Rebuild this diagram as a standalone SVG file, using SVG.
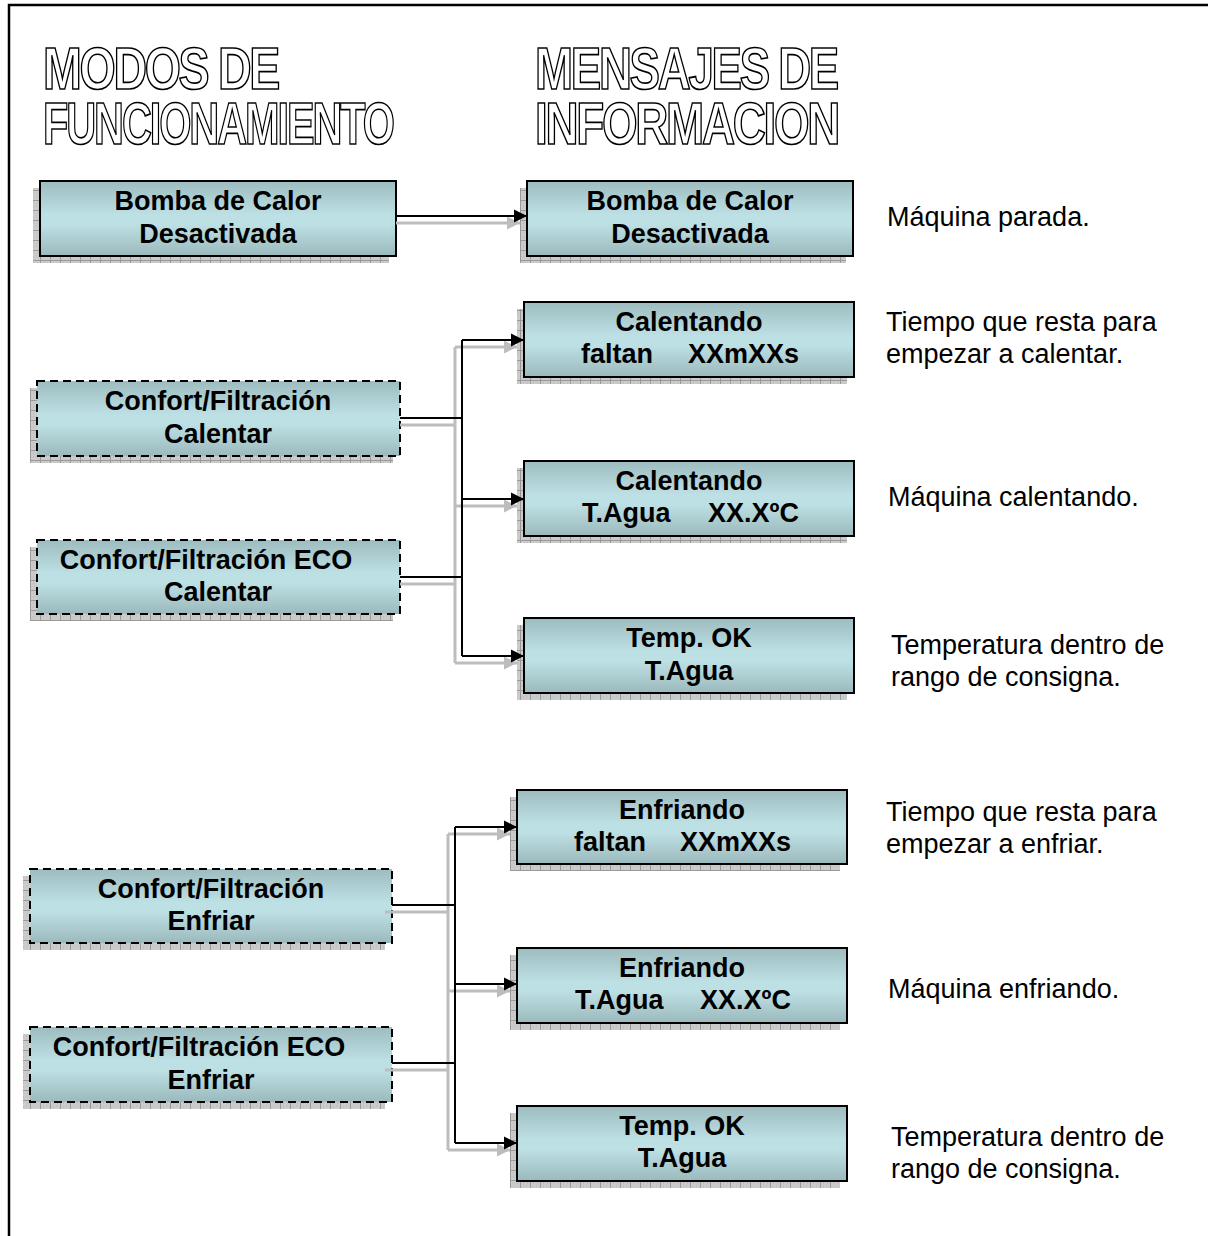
<svg xmlns="http://www.w3.org/2000/svg" width="1208" height="1236" viewBox="0 0 1208 1236">
  <defs>
    <linearGradient id="boxFill" x1="0" y1="0" x2="0" y2="1">
      <stop offset="0" stop-color="#9dbcbf"/>
      <stop offset="0.45" stop-color="#bde0e4"/>
      <stop offset="0.58" stop-color="#bde0e4"/>
      <stop offset="1" stop-color="#9bb9bc"/>
    </linearGradient>
    <pattern id="shadowGrid" width="10" height="10" patternUnits="userSpaceOnUse">
      <rect width="10" height="10" fill="#cbcbcb"/>
      <path d="M0,0.5 H10 M0.5,0 V10" stroke="#999" stroke-width="1"/>
      <path d="M3,3 h1 M6,6 h1 M3,7 h1 M7,3 h1" stroke="#b4b4b4" stroke-width="1"/>
    </pattern>
    <marker id="arrowBlack" markerUnits="userSpaceOnUse" markerWidth="14" markerHeight="14" refX="13" refY="7" orient="auto">
      <path d="M0,0.5 L13,7 L0,13.5 Z" fill="#000"/>
    </marker>
    <marker id="arrowGrey" markerUnits="userSpaceOnUse" markerWidth="14" markerHeight="14" refX="13" refY="7" orient="auto">
      <path d="M0,0.5 L13,7 L0,13.5 Z" fill="#bdbdbd"/>
    </marker>
  </defs>
  <style>
    .title { font-family: "Liberation Sans", Arial, sans-serif; font-weight: bold; font-size: 60px; letter-spacing: -3px; fill: #fff; stroke: #000; stroke-width: 1.7; }
    .shadow { fill: url(#shadowGrid); }
    .box { fill: url(#boxFill); stroke: #000; stroke-width: 2; }
    .dashed { stroke-dasharray: 8 5; }
    .lbl { font-family: "Liberation Sans", Arial, sans-serif; font-weight: bold; font-size: 27px; fill: #000; text-anchor: middle; }
    .lbl-l { font-family: "Liberation Sans", Arial, sans-serif; font-weight: bold; font-size: 27px; fill: #000; }
    .desc { font-family: "Liberation Sans", Arial, sans-serif; font-size: 27px; fill: #000; }
    .wire { fill: none; stroke: #000; stroke-width: 2; }
    .wire-shadow { fill: none; stroke: #bdbdbd; stroke-width: 3; }
  </style>

  <rect width="1208" height="1236" fill="#fff"/>
  <!-- page frame -->
  <rect x="9" y="5" width="1230" height="1260" fill="none" stroke="#000" stroke-width="2.5"/>

  <!-- column headings -->
  <g id="headings">
    <text class="title" x="43" y="89" textLength="235" lengthAdjust="spacingAndGlyphs">MODOS DE</text>
    <text class="title" x="43" y="144" textLength="350" lengthAdjust="spacingAndGlyphs">FUNCIONAMIENTO</text>
    <text class="title" x="535" y="89" textLength="302" lengthAdjust="spacingAndGlyphs">MENSAJES DE</text>
    <text class="title" x="535" y="144" textLength="303" lengthAdjust="spacingAndGlyphs">INFORMACION</text>
  </g>

  <!-- operating modes -->
  <g id="mode-off">
    <rect class="shadow" x="33" y="188" width="356" height="75"/>
    <rect class="box" x="40" y="181" width="356" height="75"/>
    <text class="lbl" x="218" y="210">Bomba de Calor</text>
    <text class="lbl" x="218" y="243">Desactivada</text>
  </g>
  <g id="mode-heat">
    <rect class="shadow" x="30" y="388" width="363" height="75"/>
    <rect class="box dashed" x="37" y="381" width="363" height="75"/>
    <text class="lbl" x="218" y="410">Confort/Filtración</text>
    <text class="lbl" x="218" y="443">Calentar</text>
  </g>
  <g id="mode-heat-eco">
    <rect class="shadow" x="30" y="547" width="363" height="74"/>
    <rect class="box dashed" x="37" y="540" width="363" height="74"/>
    <text class="lbl" x="206" y="569">Confort/Filtración ECO</text>
    <text class="lbl" x="218" y="601">Calentar</text>
  </g>
  <g id="mode-cool">
    <rect class="shadow" x="23" y="876" width="362" height="74"/>
    <rect class="box dashed" x="30" y="869" width="362" height="74"/>
    <text class="lbl" x="211" y="898">Confort/Filtración</text>
    <text class="lbl" x="211" y="930">Enfriar</text>
  </g>
  <g id="mode-cool-eco">
    <rect class="shadow" x="23" y="1034" width="362" height="75"/>
    <rect class="box dashed" x="30" y="1027" width="362" height="75"/>
    <text class="lbl" x="199" y="1056">Confort/Filtración ECO</text>
    <text class="lbl" x="211" y="1089">Enfriar</text>
  </g>

  <!-- information messages -->
  <g id="msg-off">
    <rect class="shadow" x="520" y="188" width="326" height="75"/>
    <rect class="box" x="527" y="181" width="326" height="75"/>
    <text class="lbl" x="690" y="210">Bomba de Calor</text>
    <text class="lbl" x="690" y="243">Desactivada</text>
  </g>
  <g id="msg-heat-wait">
    <rect class="shadow" x="517" y="309" width="330" height="75"/>
    <rect class="box" x="524" y="302" width="330" height="75"/>
    <text class="lbl" x="689" y="331">Calentando</text>
    <text class="lbl-l" y="363"><tspan x="581">faltan</tspan><tspan x="688">XXmXXs</tspan></text>
  </g>
  <g id="msg-heat-run">
    <rect class="shadow" x="517" y="468" width="330" height="75"/>
    <rect class="box" x="524" y="461" width="330" height="75"/>
    <text class="lbl" x="689" y="490">Calentando</text>
    <text class="lbl-l" y="522"><tspan x="582">T.Agua</tspan><tspan x="708">XX.XºC</tspan></text>
  </g>
  <g id="msg-heat-ok">
    <rect class="shadow" x="517" y="625" width="330" height="75"/>
    <rect class="box" x="524" y="618" width="330" height="75"/>
    <text class="lbl" x="689" y="647">Temp. OK</text>
    <text class="lbl" x="689" y="680">T.Agua</text>
  </g>
  <g id="msg-cool-wait">
    <rect class="shadow" x="510" y="797" width="330" height="74"/>
    <rect class="box" x="517" y="790" width="330" height="74"/>
    <text class="lbl" x="682" y="819">Enfriando</text>
    <text class="lbl-l" y="851"><tspan x="574">faltan</tspan><tspan x="680">XXmXXs</tspan></text>
  </g>
  <g id="msg-cool-run">
    <rect class="shadow" x="510" y="955" width="330" height="75"/>
    <rect class="box" x="517" y="948" width="330" height="75"/>
    <text class="lbl" x="682" y="977">Enfriando</text>
    <text class="lbl-l" y="1009"><tspan x="575">T.Agua</tspan><tspan x="700">XX.XºC</tspan></text>
  </g>
  <g id="msg-cool-ok">
    <rect class="shadow" x="510" y="1113" width="330" height="75"/>
    <rect class="box" x="517" y="1106" width="330" height="75"/>
    <text class="lbl" x="682" y="1135">Temp. OK</text>
    <text class="lbl" x="682" y="1167">T.Agua</text>
  </g>

  <!-- connectors: grey offset shadows first, then the black lines -->
  <g id="connectors">
    <g class="shadows">
      <path class="wire-shadow" d="M396,223 H520" marker-end="url(#arrowGrey)"/>
      <path class="wire-shadow" d="M400,425 H455 M400,584 H455 M455,347 V663"/>
      <path class="wire-shadow" d="M455,347 H517" marker-end="url(#arrowGrey)"/>
      <path class="wire-shadow" d="M455,506 H517" marker-end="url(#arrowGrey)"/>
      <path class="wire-shadow" d="M455,663 H517" marker-end="url(#arrowGrey)"/>
      <path class="wire-shadow" d="M385,912 H448 M385,1070 H448 M448,834 V1150"/>
      <path class="wire-shadow" d="M448,834 H510" marker-end="url(#arrowGrey)"/>
      <path class="wire-shadow" d="M448,991 H510" marker-end="url(#arrowGrey)"/>
      <path class="wire-shadow" d="M448,1150 H510" marker-end="url(#arrowGrey)"/>
    </g>
    <g class="lines">
      <path class="wire" d="M396,216 H527" marker-end="url(#arrowBlack)"/>
      <path class="wire" d="M400,418 H462 M400,577 H462 M462,340 V656"/>
      <path class="wire" d="M462,340 H524" marker-end="url(#arrowBlack)"/>
      <path class="wire" d="M462,499 H524" marker-end="url(#arrowBlack)"/>
      <path class="wire" d="M462,656 H524" marker-end="url(#arrowBlack)"/>
      <path class="wire" d="M392,905 H455 M392,1063 H455 M455,827 V1143"/>
      <path class="wire" d="M455,827 H517" marker-end="url(#arrowBlack)"/>
      <path class="wire" d="M455,984 H517" marker-end="url(#arrowBlack)"/>
      <path class="wire" d="M455,1143 H517" marker-end="url(#arrowBlack)"/>
    </g>
  </g>

  <!-- message descriptions -->
  <g id="descriptions">
    <text class="desc" x="887" y="226">Máquina parada.</text>
    <text class="desc" x="886" y="331">Tiempo que resta para</text>
    <text class="desc" x="886" y="363">empezar a calentar.</text>
    <text class="desc" x="888" y="506">Máquina calentando.</text>
    <text class="desc" x="891" y="654">Temperatura dentro de</text>
    <text class="desc" x="891" y="686">rango de consigna.</text>
    <text class="desc" x="886" y="821">Tiempo que resta para</text>
    <text class="desc" x="886" y="853">empezar a enfriar.</text>
    <text class="desc" x="888" y="998">Máquina enfriando.</text>
    <text class="desc" x="891" y="1146">Temperatura dentro de</text>
    <text class="desc" x="891" y="1178">rango de consigna.</text>
  </g>
</svg>
